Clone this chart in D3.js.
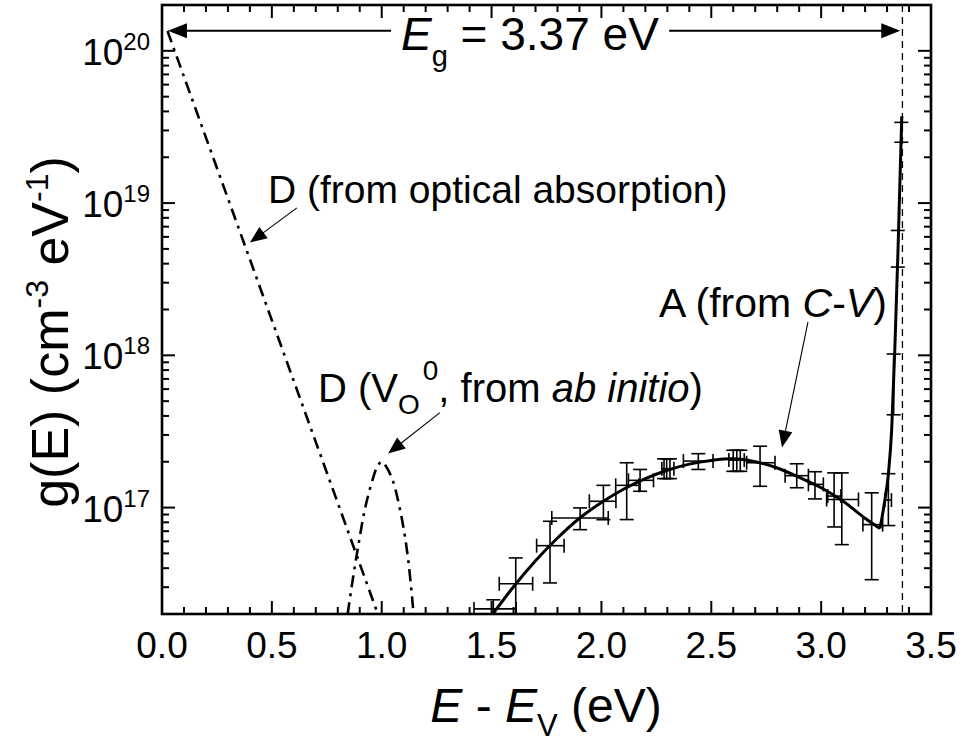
<!DOCTYPE html>
<html><head><meta charset="utf-8">
<script src="https://cdn.jsdelivr.net/npm/d3@7"></script>
<style>
body{margin:0;background:#fff}
text{font-family:"Liberation Sans",Arial,Helvetica,sans-serif;fill:#000}
</style>
</head><body>
<svg id="chart" width="963" height="755"></svg>
<script>
// ---------------- data ----------------
const xTickValues = [0, 0.5, 1.0, 1.5, 2.0, 2.5, 3.0, 3.5];
const xTickLabels = ["0.0", "0.5", "1.0", "1.5", "2.0", "2.5", "3.0", "3.5"];
const yTickValues = [1e17, 1e18, 1e19, 1e20];
const yTickExponents = ["17", "18", "19", "20"];
const bandGap = 3.37;

// D (from optical absorption) - straight exponential tail
const dOptE = [0.025, 0.25, 0.5, 0.75, 1.0];
const dOptG = [1.35e20, 1.7e19, 1.7e18, 1.7e17, 1.7e16];

// D (V_O^0, from ab initio)
const dVoE = [0.845, 0.87, 0.895, 0.925, 0.96, 0.98, 1.00, 1.02, 1.05, 1.09, 1.12, 1.145];
const dVoG = [2.0e16, 3.5e16, 5.8e16, 1.0e17, 1.55e17, 1.86e17, 2.0e17, 1.86e17, 1.51e17, 8.7e16, 4.6e16, 2.0e16];

// A (from C-V) fitted curve
const fitAE = [1.50, 1.60, 1.70, 1.80, 1.90, 2.00, 2.10, 2.20, 2.30, 2.40, 2.50, 2.60, 2.70, 2.80, 2.90, 3.00, 3.10, 3.20, 3.268];
const fitAG = [1.95e16, 3.02e16, 4.47e16, 6.31e16, 8.51e16, 1.08e17, 1.32e17, 1.55e17, 1.76e17, 1.93e17, 2.04e17, 2.09e17, 2.00e17, 1.82e17, 1.58e17, 1.35e17, 1.10e17, 8.51e16, 7.28e16];
const riseAE = [3.268, 3.29, 3.306, 3.321, 3.336, 3.350, 3.359, 3.367];
const riseAG = [7.28e16, 1.12e17, 1.66e17, 3.24e17, 1.17e18, 5.01e18, 1.45e19, 3.72e19];

// A (from C-V) data points with error bars
const ptE   = [1.508, 1.610, 1.766, 1.903, 2.009, 2.115, 2.176, 2.285, 2.297, 2.312, 2.441, 2.600, 2.616, 2.632, 2.722, 2.889, 2.972, 3.059, 3.094, 3.230, 3.306, 3.330, 3.349, 3.365];
const ptG   = [2.16e16, 3.16e16, 5.62e16, 8.55e16, 1.10e17, 1.40e17, 1.51e17, 1.78e17, 1.80e17, 1.82e17, 2.02e17, 2.05e17, 2.05e17, 2.05e17, 1.97e17, 1.62e17, 1.42e17, 1.19e17, 1.13e17, 7.73e16, 1.12e17, 6.5e17, 5.0e18, 2.9e19];
const ptELo = [1.420, 1.535, 1.705, 1.774, 1.945, 2.065, 2.123, 2.285, 2.275, 2.312, 2.373, 2.600, 2.580, 2.632, 2.661, 2.836, 2.942, 3.030, 3.025, 3.190, 3.290, 3.330, 3.349, 3.365];
const ptEHi = [1.612, 1.687, 1.830, 2.031, 2.066, 2.171, 2.237, 2.285, 2.330, 2.312, 2.508, 2.600, 2.650, 2.632, 2.790, 2.942, 3.010, 3.090, 3.170, 3.280, 3.320, 3.330, 3.349, 3.365];
const ptGLo = [1.0e16, 1.0e16, 3.20e16, 7.16e16, 8.32e16, 8.34e16, 1.28e17, 1.55e17, 1.55e17, 1.55e17, 1.78e17, 1.73e17, 1.73e17, 1.73e17, 1.38e17, 1.35e17, 1.14e17, 7.46e16, 5.71e16, 3.36e16, 7.62e16, 4.07e17, 3.80e18, 2.51e19];
const ptGHi = [2.48e16, 4.67e16, 8.13e16, 9.95e16, 1.40e17, 1.97e17, 1.78e17, 2.09e17, 2.09e17, 2.09e17, 2.26e17, 2.38e17, 2.38e17, 2.38e17, 2.53e17, 1.94e17, 1.72e17, 1.69e17, 1.69e17, 1.25e17, 1.67e17, 1.02e18, 6.61e18, 3.39e19];

// ---------------- layout ----------------
const svg = d3.select("#chart");
const L = 162, R = 931, T = 5, B = 614;
const x = d3.scaleLinear().domain([0, 3.5]).range([L, R]);
const y = d3.scaleLog().domain([2e16, 2e20]).range([B, T]);

svg.append("rect").attr("width", 963).attr("height", 755).attr("fill", "#fff");
svg.append("defs").append("clipPath").attr("id", "clip")
  .append("rect").attr("x", L).attr("y", T).attr("width", R - L).attr("height", B - T);
const plot = svg.append("g").attr("clip-path", "url(#clip)");

// ---------------- ticks ----------------
const axisG = svg.append("g").attr("stroke", "#000").attr("stroke-width", 2);
const xMinor = d3.range(0, 36).map(i => i / 10);
xMinor.forEach(v => {
  const major = Math.abs(v * 2 - Math.round(v * 2)) < 1e-6;
  const len = major ? 13 : 7;
  axisG.append("line").attr("x1", x(v)).attr("x2", x(v)).attr("y1", B).attr("y2", B - len);
  axisG.append("line").attr("x1", x(v)).attr("x2", x(v)).attr("y1", T).attr("y2", T + len);
});
const yAll = [];
for (let e = 16; e <= 20; e++) for (let k = 1; k <= 9; k++) {
  const v = k * Math.pow(10, e);
  if (v >= 2e16 && v <= 2e20) yAll.push({v, major: k === 1});
}
yAll.forEach(d => {
  const len = d.major ? 13 : 7;
  axisG.append("line").attr("x1", L).attr("x2", L + len).attr("y1", y(d.v)).attr("y2", y(d.v));
  axisG.append("line").attr("x1", R).attr("x2", R - len).attr("y1", y(d.v)).attr("y2", y(d.v));
});

// tick labels
xTickValues.forEach((v, i) => {
  svg.append("text").attr("x", x(v)).attr("y", 658).attr("text-anchor", "middle")
    .attr("font-size", 37).text(xTickLabels[i]);
});
yTickValues.forEach((v, i) => {
  const t = svg.append("text").attr("x", 150).attr("y", y(v) + 14).attr("text-anchor", "end")
    .attr("font-size", 37);
  t.append("tspan").text("10");
  t.append("tspan").attr("font-size", 24).attr("dy", -15).text(yTickExponents[i]);
});

// ---------------- curves ----------------
const line = d3.line().x(d => x(d[0])).y(d => y(d[1]));
plot.append("path").datum(dOptE.map((e, i) => [e, dOptG[i]]))
  .attr("d", line.curve(d3.curveLinear)).attr("fill", "none").attr("stroke", "#000")
  .attr("stroke-width", 2.6).attr("stroke-dasharray", "12,6,3,6");
plot.append("path").datum(dVoE.map((e, i) => [e, dVoG[i]]))
  .attr("d", line.curve(d3.curveCatmullRom)).attr("fill", "none").attr("stroke", "#000")
  .attr("stroke-width", 2.6).attr("stroke-dasharray", "12,6,3,6");

// error bars
const eb = plot.append("g").attr("stroke", "#000").attr("stroke-width", 1.6).attr("fill", "none");
const cap = 7;
ptE.forEach((e, i) => {
  const cx = x(e), cy = y(ptG[i]);
  const yl = y(ptGLo[i]), yh = y(ptGHi[i]);
  const xl = x(ptELo[i]), xh = x(ptEHi[i]);
  if (Math.abs(yl - yh) > 1) {
    eb.append("line").attr("x1", cx).attr("x2", cx).attr("y1", yl).attr("y2", yh);
    eb.append("line").attr("x1", cx - cap).attr("x2", cx + cap).attr("y1", yl).attr("y2", yl);
    eb.append("line").attr("x1", cx - cap).attr("x2", cx + cap).attr("y1", yh).attr("y2", yh);
  }
  if (Math.abs(xh - xl) > 1) {
    eb.append("line").attr("x1", xl).attr("x2", xh).attr("y1", cy).attr("y2", cy);
    eb.append("line").attr("x1", xl).attr("x2", xl).attr("y1", cy - cap).attr("y2", cy + cap);
    eb.append("line").attr("x1", xh).attr("x2", xh).attr("y1", cy - cap).attr("y2", cy + cap);
  }
});

plot.append("path").datum(fitAE.map((e, i) => [e, fitAG[i]]))
  .attr("d", line.curve(d3.curveCatmullRom)).attr("fill", "none").attr("stroke", "#000")
  .attr("stroke-width", 3);
plot.append("path").datum(riseAE.map((e, i) => [e, riseAG[i]]))
  .attr("d", line.curve(d3.curveMonotoneX)).attr("fill", "none").attr("stroke", "#000")
  .attr("stroke-width", 3).attr("stroke-linejoin", "round");

// band gap dashed line
svg.append("line").attr("x1", x(bandGap)).attr("x2", x(bandGap)).attr("y1", T).attr("y2", B)
  .attr("stroke", "#000").attr("stroke-width", 1.3).attr("stroke-dasharray", "7,5");

// frame
svg.append("rect").attr("x", L).attr("y", T).attr("width", R - L).attr("height", B - T)
  .attr("fill", "none").attr("stroke", "#000").attr("stroke-width", 2.6);

// ---------------- arrows ----------------
function arrow(x1, y1, x2, y2, hl, hw, sw) {
  const dx = x2 - x1, dy = y2 - y1, len = Math.hypot(dx, dy);
  const ux = dx / len, uy = dy / len;
  const bx = x2 - ux * hl, by = y2 - uy * hl;
  svg.append("line").attr("x1", x1).attr("y1", y1).attr("x2", bx + ux * 1).attr("y2", by + uy * 1)
    .attr("stroke", "#000").attr("stroke-width", sw);
  svg.append("path").attr("d",
    `M${x2},${y2}L${bx - uy * hw},${by + ux * hw}L${bx + uy * hw},${by - ux * hw}Z`).attr("fill", "#000");
}

// band gap label
const egY = y(1.355e20);
const eg = svg.append("text").attr("x", 401).attr("y", 50).attr("font-size", 46);
eg.append("tspan").attr("font-style", "italic").text("E");
eg.append("tspan").attr("font-size", 29).attr("dy", 16).text("g");
eg.append("tspan").attr("dy", -16).text(" = 3.37 eV");
const bb = eg.node().getBBox();
arrow(bb.x - 10, egY, x(0.027), egY, 19, 7.5, 2.2);
arrow(bb.x + bb.width + 10, egY, x(3.36), egY, 19, 7.5, 2.2);

// annotations
svg.append("text").attr("x", 268).attr("y", 203).attr("font-size", 39).text("D (from optical absorption)");
arrow(x(0.614), y(9.3e18), x(0.40), y(5.5e18), 17, 7, 1.1);

const t2 = svg.append("text").attr("x", 318).attr("y", 402).attr("font-size", 40);
t2.append("tspan").text("D (V");
t2.append("tspan").attr("font-size", 28).attr("dy", 12).text("O");
t2.append("tspan").attr("font-size", 28).attr("dx", 3).attr("dy", -34).text("0");
t2.append("tspan").attr("dy", 22).text(", from ");
t2.append("tspan").attr("font-style", "italic").text("ab initio");
t2.append("tspan").text(")");
arrow(x(1.265), y(4.2e17), x(1.029), y(2.27e17), 17, 7, 1.1);

const t3 = svg.append("text").attr("x", 659).attr("y", 317).attr("font-size", 41);
t3.append("tspan").text("A (from ");
t3.append("tspan").attr("font-style", "italic").text("C");
t3.append("tspan").text("-");
t3.append("tspan").attr("font-style", "italic").text("V");
t3.append("tspan").text(")");
arrow(x(2.94), y(1.65e18), x(2.822), y(2.48e17), 17, 7, 1.1);

// axis titles
const xt = svg.append("text").attr("x", 546).attr("y", 722).attr("text-anchor", "middle").attr("font-size", 48);
xt.append("tspan").attr("font-style", "italic").text("E");
xt.append("tspan").text(" - ");
xt.append("tspan").attr("font-style", "italic").text("E");
xt.append("tspan").attr("font-size", 31).attr("dy", 14).text("V");
xt.append("tspan").attr("dy", -14).text(" (eV)");

const yt = svg.append("text").attr("transform", "translate(68,332) rotate(-90)")
  .attr("text-anchor", "middle").attr("font-size", 52);
yt.append("tspan").text("g(E) (cm");
yt.append("tspan").attr("font-size", 32).attr("dy", -20).text("-3");
yt.append("tspan").attr("dy", 20).text(" eV");
yt.append("tspan").attr("font-size", 32).attr("dy", -20).text("-1");
yt.append("tspan").attr("dy", 20).text(")");
</script>
</body></html>
